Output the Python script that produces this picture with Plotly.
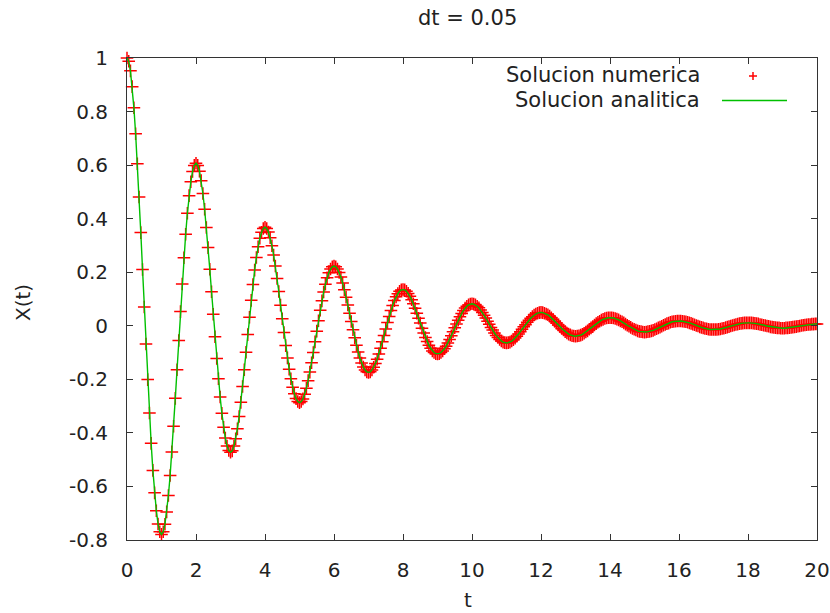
import plotly.graph_objects as go

# Time step and samples (t = 0 .. 20 in steps of dt)
DT = 0.05
N_STEPS = 400
t = [round(i * DT, 2) for i in range(N_STEPS + 1)]

# X(t) sampled every dt (rows of 20 samples = 1 time unit each)
x_t = [
    1.000, 0.988, 0.952, 0.893, 0.814, 0.717, 0.605, 0.481, 0.348, 0.210, 0.070, -0.068, -0.201, -0.326, -0.439, -0.540, -0.624, -0.691, -0.740, -0.769,
    -0.779, -0.769, -0.741, -0.695, -0.634, -0.559, -0.471, -0.375, -0.271, -0.164, -0.055, 0.053, 0.156, 0.254, 0.342, 0.420, 0.486, 0.538, 0.576, 0.599,
    0.607, 0.599, 0.577, 0.542, 0.494, 0.435, 0.367, 0.292, 0.211, 0.127, 0.043, -0.041, -0.122, -0.198, -0.266, -0.327, -0.379, -0.419, -0.449, -0.466,
    -0.472, -0.467, -0.449, -0.422, -0.385, -0.339, -0.286, -0.227, -0.164, -0.099, -0.033, 0.032, 0.095, 0.154, 0.208, 0.255, 0.295, 0.327, 0.349, 0.363,
    0.368, 0.363, 0.350, 0.329, 0.299, 0.264, 0.223, 0.177, 0.128, 0.077, 0.026, -0.025, -0.074, -0.120, -0.162, -0.198, -0.230, -0.254, -0.272, -0.283,
    -0.287, -0.283, -0.273, -0.256, -0.233, -0.205, -0.173, -0.138, -0.100, -0.060, -0.020, 0.019, 0.058, 0.093, 0.126, 0.155, 0.179, 0.198, 0.212, 0.220,
    0.223, 0.220, 0.212, 0.199, 0.182, 0.160, 0.135, 0.107, 0.078, 0.047, 0.016, -0.015, -0.045, -0.073, -0.098, -0.120, -0.139, -0.154, -0.165, -0.172,
    -0.174, -0.172, -0.165, -0.155, -0.141, -0.125, -0.105, -0.084, -0.060, -0.036, -0.012, 0.012, 0.035, 0.057, 0.076, 0.094, 0.108, 0.120, 0.129, 0.134,
    0.135, 0.134, 0.129, 0.121, 0.110, 0.097, 0.082, 0.065, 0.047, 0.028, 0.010, -0.009, -0.027, -0.044, -0.059, -0.073, -0.084, -0.094, -0.100, -0.104,
    -0.105, -0.104, -0.100, -0.094, -0.086, -0.076, -0.064, -0.051, -0.037, -0.022, -0.007, 0.007, 0.021, 0.034, 0.046, 0.057, 0.066, 0.073, 0.078, 0.081,
    0.082, 0.081, 0.078, 0.073, 0.067, 0.059, 0.050, 0.039, 0.029, 0.017, 0.006, -0.006, -0.016, -0.027, -0.036, -0.044, -0.051, -0.057, -0.061, -0.063,
    -0.064, -0.063, -0.061, -0.057, -0.052, -0.046, -0.039, -0.031, -0.022, -0.013, -0.004, 0.004, 0.013, 0.021, 0.028, 0.034, 0.040, 0.044, 0.047, 0.049,
    0.050, 0.049, 0.047, 0.044, 0.041, 0.036, 0.030, 0.024, 0.017, 0.010, 0.003, -0.003, -0.010, -0.016, -0.022, -0.027, -0.031, -0.034, -0.037, -0.038,
    -0.039, -0.038, -0.037, -0.035, -0.032, -0.028, -0.023, -0.019, -0.013, -0.008, -0.003, 0.003, 0.008, 0.013, 0.017, 0.021, 0.024, 0.027, 0.029, 0.030,
    0.030, 0.030, 0.029, 0.027, 0.025, 0.022, 0.018, 0.015, 0.011, 0.006, 0.002, -0.002, -0.006, -0.010, -0.013, -0.016, -0.019, -0.021, -0.022, -0.023,
    -0.024, -0.023, -0.022, -0.021, -0.019, -0.017, -0.014, -0.011, -0.008, -0.005, -0.002, 0.002, 0.005, 0.008, 0.010, 0.013, 0.015, 0.016, 0.017, 0.018,
    0.018, 0.018, 0.017, 0.016, 0.015, 0.013, 0.011, 0.009, 0.006, 0.004, 0.001, -0.001, -0.004, -0.006, -0.008, -0.010, -0.011, -0.013, -0.014, -0.014,
    -0.014, -0.014, -0.014, -0.013, -0.012, -0.010, -0.009, -0.007, -0.005, -0.003, -0.001, 0.001, 0.003, 0.005, 0.006, 0.008, 0.009, 0.010, 0.011, 0.011,
    0.011, 0.011, 0.011, 0.010, 0.009, 0.008, 0.007, 0.005, 0.004, 0.002, 0.001, -0.001, -0.002, -0.004, -0.005, -0.006, -0.007, -0.008, -0.008, -0.009,
    -0.009, -0.009, -0.008, -0.008, -0.007, -0.006, -0.005, -0.004, -0.003, -0.002, -0.001, 0.001, 0.002, 0.003, 0.004, 0.005, 0.005, 0.006, 0.006, 0.007,
    0.007,
]

x_ticks = [0, 2, 4, 6, 8, 10, 12, 14, 16, 18, 20]
x_tick_labels = ["0", "2", "4", "6", "8", "10", "12", "14", "16", "18", "20"]
y_ticks = [-0.8, -0.6, -0.4, -0.2, 0, 0.2, 0.4, 0.6, 0.8, 1]
y_tick_labels = ["-0.8", "-0.6", "-0.4", "-0.2", "0", "0.2", "0.4", "0.6", "0.8", "1"]

title_text = "dt = 0.05"
x_label = "t"
y_label = "X(t)"
legend_labels = ["Solucion numerica", "Solucion analitica"]

RED = "#ff0000"
GREEN = "#00c000"
INK = "#222222"
FONT = "DejaVu Sans"

W, H = 830, 613
ML, MR, MT, MB = 127, 13, 58, 73
PW, PH = W - ML - MR, H - MT - MB


def px(xp):
    return (xp - ML) / PW


def py(yp):
    return (H - MB - yp) / PH


fig = go.Figure()

fig.add_trace(go.Scatter(
    x=t, y=x_t, mode="markers", name=legend_labels[0],
    marker=dict(symbol="cross-thin", size=9, color=RED,
                line=dict(color=RED, width=1.5)),
    cliponaxis=False, showlegend=False,
))

fig.add_trace(go.Scatter(
    x=t, y=x_t, mode="lines", name=legend_labels[1],
    line=dict(color=GREEN, width=1.4),
    cliponaxis=False, showlegend=False,
))

axis_common = dict(
    showgrid=False, zeroline=False, showline=True, linecolor="#333333",
    linewidth=1, mirror="ticks", ticks="inside", ticklen=6, tickwidth=1,
    tickcolor="#333333", tickfont=dict(family=FONT, size=20, color=INK),
    automargin=False,
)

fig.update_xaxes(range=[0, 20], tickvals=x_ticks, ticktext=x_tick_labels,
                 ticklabelstandoff=12, **axis_common)
fig.update_yaxes(range=[-0.8, 1], tickvals=y_ticks, ticktext=y_tick_labels,
                 ticklabelstandoff=14, **axis_common)

annotations = [
    dict(text=title_text, x=px(467), y=py(18), size=21),
    dict(text=x_label, x=px(468), y=py(600), size=20),
    dict(text=y_label, x=px(23), y=py(303), textangle=-90, size=20),
    dict(text=legend_labels[0], x=px(702), y=py(75), xanchor="right", size=21),
    dict(text=legend_labels[1], x=px(702), y=py(100), xanchor="right", size=21),
]
for a in annotations:
    a.setdefault("xanchor", "center")
    size = a.pop("size")
    a.update(xref="paper", yref="paper", showarrow=False, yanchor="middle",
             font=dict(family=FONT, size=size, color=INK))

shapes = [
    # key sample: cross
    dict(type="line", xref="paper", yref="paper", x0=px(749), x1=px(757),
         y0=py(76), y1=py(76), line=dict(color=RED, width=1.5)),
    dict(type="line", xref="paper", yref="paper", x0=px(753), x1=px(753),
         y0=py(72), y1=py(80), line=dict(color=RED, width=1.5)),
    # key sample: line
    dict(type="line", xref="paper", yref="paper", x0=px(722), x1=px(787),
         y0=py(100.5), y1=py(100.5), line=dict(color=GREEN, width=1.4)),
]

fig.update_layout(
    width=W, height=H,
    margin=dict(l=ML, r=MR, t=MT, b=MB, pad=0, autoexpand=False),
    paper_bgcolor="white", plot_bgcolor="white",
    annotations=annotations, shapes=shapes,
    showlegend=False,
)

fig.write_html("out.html")
